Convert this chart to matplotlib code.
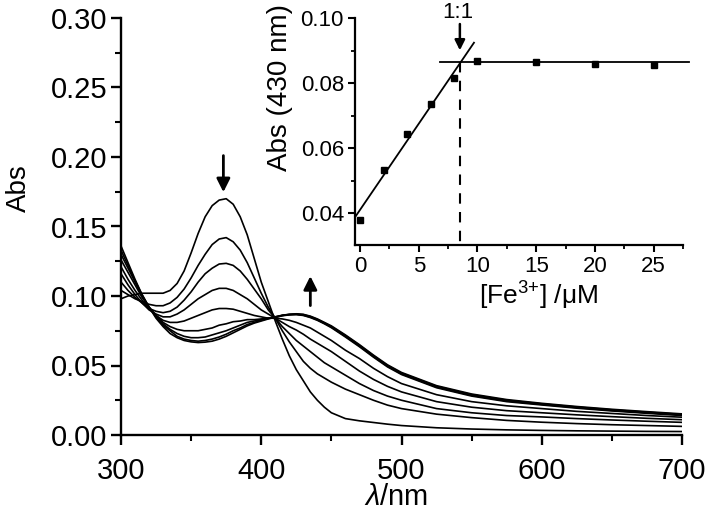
import matplotlib
matplotlib.use('Agg')
import matplotlib.pyplot as plt
from matplotlib.ticker import MultipleLocator, FormatStrFormatter

plt.rcParams['font.family'] = ['Liberation Sans', 'DejaVu Sans']
plt.rcParams['mathtext.fontset'] = 'custom'
plt.rcParams['mathtext.rm'] = 'Liberation Sans'
plt.rcParams['mathtext.it'] = 'Liberation Sans:italic'
plt.rcParams['mathtext.bf'] = 'Liberation Sans:bold'

# ---------------- data ----------------
wavelength = [300, 305, 310, 315, 320, 325, 330, 335, 340, 345, 350, 355, 360, 365, 370, 375,
              380, 385, 390, 395, 400, 405, 410, 415, 420, 425, 430, 435, 440, 445, 450,
              460, 470, 480, 490, 500,
              525, 550, 575, 600, 625, 650, 675, 700]

abs_fe0 = [.098, .100, .101, .102, .102, .102, .102, .104, .109, .118, .131, .145, .157, .165, .169, .170,
           .166, .157, .144, .127, .110, .096, .082, .069, .057, .047, .039, .031, .025, .020, .016,
           .0118, .0102, .0090, .0078, .0068,
           .0052, .0043, .0037, .0033, .0030, .0028, .0026, .0025]
abs_fe2 = [.104, .101, .098, .096, .094, .093, .093, .095, .099, .105, .113, .122, .130, .137, .141, .142,
           .139, .133, .124, .113, .102, .092, .084, .075, .067, .060, .053, .048, .044, .041, .038,
           .033, .029, .025, .0215, .019,
           .015, .0125, .0105, .0092, .0082, .0074, .0068, .0062]
abs_fe4 = [.110, .104, .099, .095, .091, .089, .088, .089, .092, .097, .103, .110, .116, .120, .123, .1235,
           .122, .118, .112, .105, .098, .090, .084, .078, .073, .068, .064, .060, .056, .052, .049,
           .043, .037, .032, .028, .025,
           .019, .016, .014, .013, .0118, .0108, .0099, .0091]
abs_fe6 = [.116, .108, .101, .095, .090, .087, .085, .085, .087, .090, .094, .098, .101, .104, .1055, .1055,
           .104, .101, .098, .094, .090, .087, .084, .081, .078, .0755, .0725, .069, .066, .063, .060,
           .053, .046, .040, .035, .031,
           .024, .020, .0175, .016, .0145, .0132, .012, .011]
abs_fe8 = [.121, .112, .104, .097, .091, .086, .0825, .081, .081, .082, .084, .086, .088, .090, .091, .091,
           .0905, .089, .0875, .086, .085, .084, .084, .0835, .0825, .081, .079, .077, .074, .071, .068,
           .061, .055, .048, .042, .037,
           .029, .024, .021, .019, .017, .0155, .014, .0128]
abs_fe10 = [.126, .117, .108, .099, .092, .086, .081, .078, .076, .075, .075, .075, .076, .077, .079, .080,
            .0815, .082, .083, .083, .0835, .084, .0845, .086, .0868, .0872, .0868, .0855, .0835, .081, .0785,
            .072, .065, .0575, .0505, .045,
            .0355, .0295, .0255, .0228, .0205, .0185, .0168, .0152]
abs_fe15 = [.130, .120, .110, .100, .092, .085, .080, .076, .073, .071, .070, .070, .0705, .072, .0735, .075,
            .077, .079, .081, .082, .083, .084, .085, .0862, .0868, .087, .0866, .0852, .0832, .0807, .078,
            .0715, .0645, .057, .050, .0445,
            .035, .029, .025, .0224, .0201, .0181, .0164, .0148]
abs_fe20 = [.133, .122, .111, .101, .092, .085, .079, .075, .071, .069, .068, .0675, .068, .069, .0705, .0725,
            .075, .077, .0795, .081, .0825, .0838, .085, .086, .0866, .0868, .0862, .0848, .0828, .0803, .0776,
            .071, .064, .0565, .0495, .044,
            .0345, .0285, .0245, .022, .0197, .0177, .016, .0144]
abs_fe25 = [.136, .124, .112, .101, .092, .084, .078, .073, .070, .068, .067, .0665, .0668, .0675, .069, .071,
            .0735, .076, .0785, .0805, .082, .0835, .0848, .0858, .0864, .0866, .086, .0845, .0825, .080, .0772,
            .0705, .0635, .056, .049, .0435,
            .034, .028, .024, .0216, .0193, .0173, .0156, .014]
spectra = [abs_fe0, abs_fe2, abs_fe4, abs_fe6, abs_fe8, abs_fe10, abs_fe15, abs_fe20, abs_fe25]

fe_conc = [0, 2, 4, 6, 8, 10, 15, 20, 25]
abs430 = [0.0378, 0.0532, 0.0642, 0.0735, 0.0814, 0.0869, 0.0866, 0.0860, 0.0855]

rise_fit_x = [-0.4, 9.7]
rise_fit_y = [0.0389, 0.0924]
plateau_x = [6.8, 28.0]
plateau_y = [0.0866, 0.0866]
break_x = [8.5, 8.5]
break_y = [0.0866, 0.0302]

# ---------------- figure ----------------
W, H = 708, 519
fig = plt.figure(figsize=(W / 100, H / 100), dpi=100)

ax = fig.add_axes([121 / W, (H - 435) / H, (682 - 121) / W, (435 - 18) / H])
for s in spectra:
    ax.plot(wavelength, s, color='black', lw=1.2)
ax.set_xlim(300, 700)
ax.set_ylim(0, 0.30)
ax.spines[['top', 'right']].set_visible(False)
for sp in ['left', 'bottom']:
    ax.spines[sp].set_linewidth(1.7)
ax.xaxis.set_major_locator(MultipleLocator(100))
ax.xaxis.set_minor_locator(MultipleLocator(50))
ax.yaxis.set_major_locator(MultipleLocator(0.05))
ax.yaxis.set_minor_locator(MultipleLocator(0.025))
ax.yaxis.set_major_formatter(FormatStrFormatter('%.2f'))
ax.tick_params(which='major', direction='out', length=7, width=1.7, labelsize=21)
ax.tick_params(which='minor', direction='out', length=4, width=1.5)
ax.tick_params(axis='x', which='major', pad=9)
ax.tick_params(axis='y', which='major', pad=3)
ax.set_xlabel(r'$\lambda$/nm', fontsize=21)
ax.xaxis.set_label_coords(0.49, -0.115)
ax.set_ylabel('Abs', fontsize=20)
ax.yaxis.set_label_coords(-0.158, 0.592)

ax.annotate('', xy=(373, 0.1727), xytext=(373, 0.203),
            arrowprops=dict(arrowstyle='-|>', lw=2.0, color='black', mutation_scale=20))
ax.annotate('', xy=(435, 0.1163), xytext=(435, 0.0911),
            arrowprops=dict(arrowstyle='-|>', lw=2.0, color='black', mutation_scale=20))

# ---------------- inset ----------------
ax2 = fig.add_axes([355 / W, (H - 245) / H, (683 - 355) / W, (245 - 18) / H])
ax2.patch.set_alpha(0)
ax2.plot(fe_conc, abs430, 's', color='black', ms=4.5)
ax2.plot(rise_fit_x, rise_fit_y, color='black', lw=1.3, clip_on=False)
ax2.plot(plateau_x, plateau_y, color='black', lw=1.3, clip_on=False)
ax2.plot(break_x, break_y, color='black', lw=1.5, ls=(0, (5, 4)))
ax2.set_xlim(-0.43, 27.5)
ax2.set_ylim(0.0302, 0.10)
ax2.spines[['top', 'right']].set_visible(False)
for sp in ['left', 'bottom']:
    ax2.spines[sp].set_linewidth(1.6)
ax2.xaxis.set_major_locator(MultipleLocator(5))
ax2.xaxis.set_minor_locator(MultipleLocator(2.5))
ax2.yaxis.set_major_locator(MultipleLocator(0.02))
ax2.yaxis.set_minor_locator(MultipleLocator(0.01))
ax2.yaxis.set_major_formatter(FormatStrFormatter('%.2f'))
ax2.tick_params(which='major', direction='out', length=5, width=1.5, labelsize=16, pad=3)
ax2.tick_params(which='minor', direction='out', length=3, width=1.3)
ax2.set_xlabel(r'[Fe$^{3{+}}$] /' + '\u03bcM', fontsize=19)
ax2.xaxis.set_label_coords(0.558, -0.154)
ax2.set_ylabel('Abs (430 nm)', fontsize=20)
ax2.yaxis.set_label_coords(-0.19, 0.695)

ax2.annotate('', xy=(8.5, 0.0892), xytext=(8.5, 0.0990),
             arrowprops=dict(arrowstyle='-|>', lw=1.8, color='black', mutation_scale=15),
             annotation_clip=False)
fig.text(458 / W, 1 - 12 / H, '1:1', ha='center', va='center', fontsize=16)

fig.savefig('out.png', dpi=100)
